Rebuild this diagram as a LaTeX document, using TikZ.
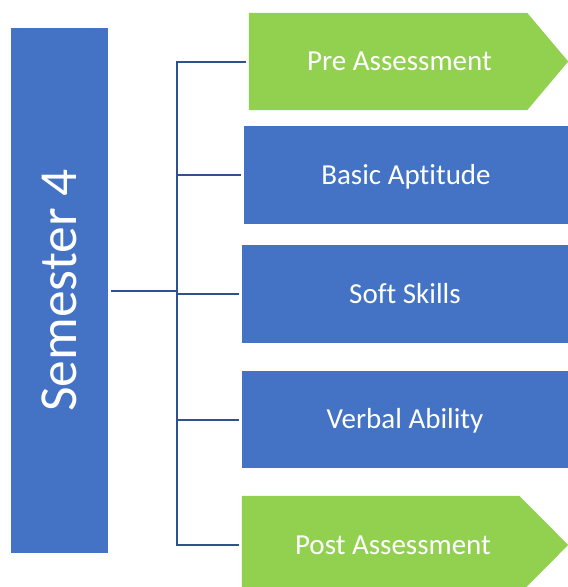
\documentclass[tikz,border=0pt]{standalone}
\usepackage{fontspec}
\setmainfont{Carlito}[Ligatures=NoCommon]
\usetikzlibrary{backgrounds}
\definecolor{boxblue}{RGB}{68,114,196}
\definecolor{boxgreen}{RGB}{146,208,80}
\definecolor{linkblue}{RGB}{47,82,143}
\begin{document}
\begin{tikzpicture}[x=1pt,y=-1pt,
  labelfont/.style={font=\fontsize{29}{34}\selectfont, text height=18.7pt, text depth=0pt},
  bluebox/.style={rectangle, fill=boxblue, text=white, inner sep=0pt, labelfont},
  greenbody/.style={rectangle, text=white, inner sep=0pt, labelfont},
  greenfill/.style={fill=boxgreen},
  link/.style={draw=linkblue, line width=2pt}]
\useasboundingbox (0,0) rectangle (568,587);
\clip (0,0) rectangle (568,587);
\node[rectangle, fill=boxblue, text=white, inner sep=0pt, minimum width=97pt, minimum height=525pt] (sem) at (59.5,290.5)
  {\rotatebox{90}{\fontsize{53.5}{62}\selectfont Semester 4}};
\node[greenbody, minimum width=278pt, minimum height=97pt] (pre) at (388,61.5) {\hspace*{23pt}Pre Assessment};
\node[bluebox, minimum width=324pt, minimum height=98pt] (basic) at (406,175) {Basic Aptitude};
\node[bluebox, minimum width=326pt, minimum height=98pt] (soft) at (405,294) {Soft Skills};
\node[bluebox, minimum width=326pt, minimum height=97pt] (verbal) at (405,419.5) {Verbal Ability};
\node[greenbody, minimum width=277pt, minimum height=98pt] (post) at (380.5,545) {\hspace*{25pt}Post Assessment};
\begin{scope}[on background layer]
  \fill[greenfill] (pre.north west) -- (pre.north east) -- ([xshift=41pt]pre.east)
    -- (pre.south east) -- (pre.south west) -- cycle;
  \fill[greenfill] (post.north west) -- (post.north east) -- ([xshift=49pt]post.east)
    -- (post.south east) -- (post.south west) -- cycle;
\end{scope}
\coordinate (hub) at (177,291);
\draw[link, shorten <=3pt] (sem.east |- hub) -- (hub);
\foreach \t in {pre,basic,soft,verbal,post}
  \draw[link, shorten >=3pt] (hub) |- (\t.west);
\end{tikzpicture}
\end{document}
